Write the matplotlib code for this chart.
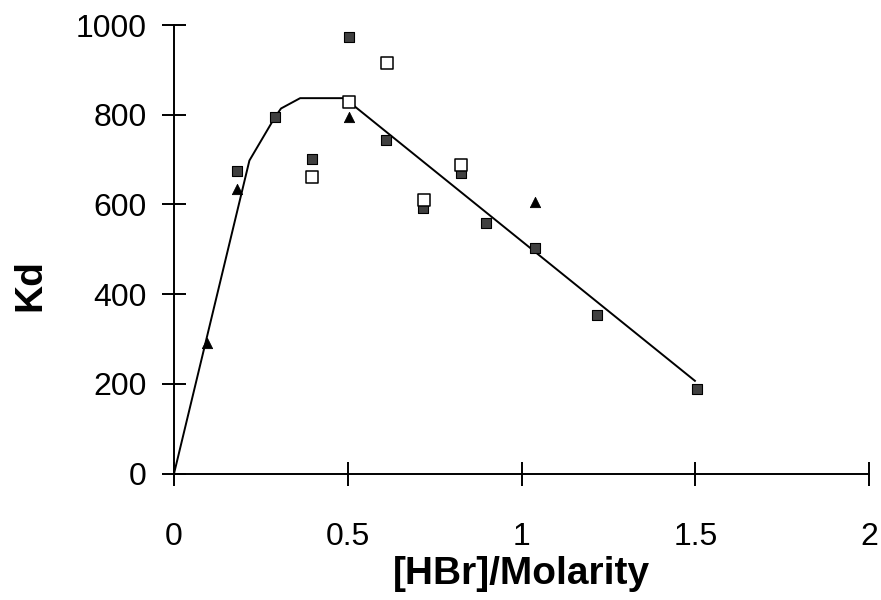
import matplotlib
matplotlib.use("Agg")
import matplotlib.pyplot as plt

# Data
filled_sq_x = [0.181, 0.290, 0.397, 0.504, 0.610, 0.717, 0.826, 0.897, 1.039, 1.216, 1.504]
filled_sq_y = [675, 794, 701, 973, 743, 592, 670, 559, 502, 354, 188]

open_sq_x = [0.396, 0.505, 0.612, 0.720, 0.826]
open_sq_y = [661, 828, 915, 610, 688]

tri_x = [0.094, 0.180, 0.503, 1.039]
tri_y = [291, 635, 794, 606]

fit_x = [0.0, 0.217, 0.290, 0.308, 0.363, 0.492, 0.521, 1.499]
fit_y = [0, 698, 794, 814, 837, 837, 818, 207]

x_ticks = [0, 0.5, 1, 1.5, 2]
x_ticklabels = ["0", "0.5", "1", "1.5", "2"]
y_ticks = [0, 200, 400, 600, 800, 1000]
y_ticklabels = ["0", "200", "400", "600", "800", "1000"]

plt.rcParams['font.family'] = ['Liberation Sans', 'DejaVu Sans']

fig = plt.figure(figsize=(8.81, 6.0), dpi=100)
ax = fig.add_axes([0.1975, 0.2105, 0.7889, 0.7478])

ax.plot(fit_x, fit_y, color='black', lw=1.4, zorder=2, clip_on=False)
ax.scatter(filled_sq_x, filled_sq_y, marker='s', s=60, facecolor='#404040',
           edgecolor='black', linewidths=0.8, zorder=3, clip_on=False)
ax.scatter(open_sq_x, open_sq_y, marker='s', s=80, facecolor='white',
           edgecolor='black', linewidths=1.1, zorder=4, clip_on=False)
ax.scatter(tri_x, tri_y, marker='^', s=55, facecolor='black',
           edgecolor='black', linewidths=0.6, zorder=3, clip_on=False)

ax.set_xlim(0, 2)
ax.set_ylim(0, 1000)
ax.spines['top'].set_visible(False)
ax.spines['right'].set_visible(False)
for s in ['left', 'bottom']:
    ax.spines[s].set_linewidth(1.4)

ax.set_xticks(x_ticks)
ax.set_xticklabels(x_ticklabels)
ax.set_yticks(y_ticks)
ax.set_yticklabels(y_ticklabels)
ax.tick_params(axis='x', direction='inout', length=17, width=1.4, pad=26, labelsize=23)
ax.tick_params(axis='y', direction='inout', length=17, width=1.4, pad=11, labelsize=23)

ax.set_xlabel('[HBr]/Molarity', fontsize=28, fontweight='bold')
ax.xaxis.set_label_coords(0.5, -0.245)
ax.xaxis.label.set_va('baseline')
ax.set_ylabel('Kd', fontsize=28, fontweight='bold')
ax.yaxis.set_label_coords(-0.207, 0.42)
ax.yaxis.label.set_va('center')

fig.savefig('out.png', dpi=100)
